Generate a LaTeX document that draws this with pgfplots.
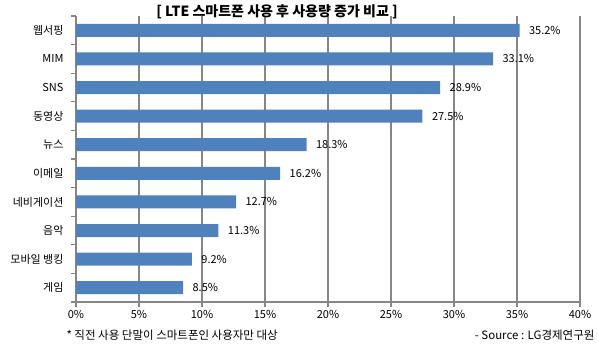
\documentclass[border=0pt]{standalone}
\usepackage{pgfplots}
\pgfplotsset{compat=1.18}
\usepackage{fontspec}
\setmainfont{Noto Sans CJK KR}
\definecolor{barblue}{HTML}{4F81BD}
\definecolor{gridgray}{HTML}{868686}
\begin{document}
\begin{tikzpicture}[x=1pt,y=1pt]
\path[use as bounding box] (0,0) rectangle (598,345);
\begin{axis}[
  at={(76pt,43pt)}, anchor=south west,
  scale only axis, width=504pt, height=286pt,
  xbar, bar width=13pt,
  xmin=0, xmax=40,
  ymin=-0.5, ymax=9.5, y dir=reverse,
  ytick={0,...,9},
  yticklabels={웹서핑,MIM,SNS,동영상,뉴스,이메일,네비게이션,음악,모바일 뱅킹,게임},
  minor ytick={-0.5,0.5,...,9.5},
  major y tick style={draw=none},
  minor y tick style={draw=gridgray, line width=1.2pt},
  xtick={0,5,...,40},
  xticklabel={\pgfmathprintnumber{\tick}\%},
  /pgf/number format/assume math mode=true,
  xmajorgrids=true, grid style={draw=gridgray, line width=1.2pt},
  axis x line*=bottom, axis y line*=left,
  axis line style={draw=gridgray, line width=1.2pt, -},
  x tick style={draw=gridgray, line width=1.2pt},
  tick align=outside, major tick length=5pt, minor tick length=5pt,
  ticklabel style={font=\fontsize{11}{13}\selectfont, text=black},
  yticklabel style={xshift=-4pt},
  nodes near coords={\pgfmathprintnumber[fixed,fixed zerofill,precision=1]{\pgfplotspointmeta}\%},
  nodes near coords style={font=\fontsize{11}{13}\selectfont, black, anchor=west, xshift=6pt},
  point meta=explicit,
]
\addplot[fill=barblue, draw=none] coordinates {
 (35.2,0) [35.2]
 (33.1,1) [33.1]
 (28.9,2) [28.9]
 (27.5,3) [27.5]
 (18.3,4) [18.3]
 (16.2,5) [16.2]
 (12.7,6) [12.7]
 (11.3,7) [11.3]
 (9.2,8) [9.2]
 (8.5,9) [8.5]
};
\end{axis}
\node[font=\fontsize{14}{16}\selectfont\bfseries] at (277pt,333pt) {[ LTE 스마트폰 사용 후 사용량 증가 비교 ]};
\node[font=\fontsize{11.5}{13}\selectfont, anchor=west] at (63pt,10pt) {* 직전 사용 단말이 스마트폰인 사용자만 대상};
\node[font=\fontsize{11.5}{13}\selectfont, anchor=east] at (598pt,10pt) {- Source : LG경제연구원};
\end{tikzpicture}
\end{document}
